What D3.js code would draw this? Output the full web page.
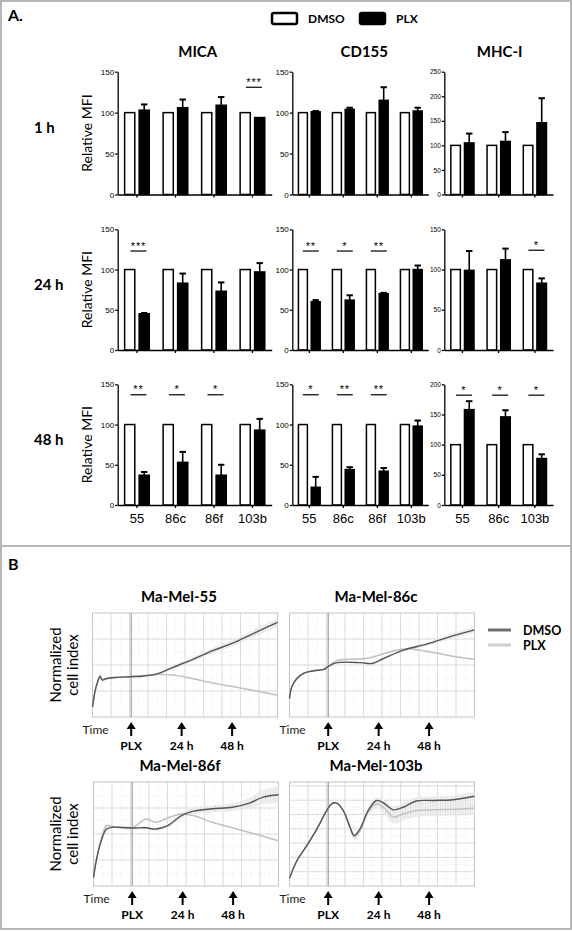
<!DOCTYPE html>
<html><head><meta charset="utf-8">
<script src="https://cdn.jsdelivr.net/npm/d3@7"></script>
<style>body{margin:0;background:#fff}svg{display:block}</style>
</head><body>
<svg id="c" width="572" height="931"></svg>
<script>
// ---------- Panel A data ----------
const markers = ["MICA", "CD155", "MHC-I"];
const timepoints = ["1 h", "24 h", "48 h"];
const seriesNames = ["DMSO", "PLX"];
const linesMICA = ["55", "86c", "86f", "103b"];
const linesCD155 = ["55", "86c", "86f", "103b"];
const linesMHC = ["55", "86c", "103b"];
const yMaxMICA = [150, 150, 150];
const yMaxCD155 = [150, 150, 150];
const yMaxMHC = [250, 150, 200];

const dmsoMICA = [[100, 100, 100, 100], [100, 100, 100, 100], [100, 100, 100, 100]];
const plxMICA = [[103, 106, 109, 94], [45, 83, 73, 97], [37, 53, 37, 93]];
const plxErrMICA = [[7, 10, 10, 0], [1, 12, 11, 11], [4, 13, 13, 14]];
const sigMICA = [["", "", "", "***"], ["***", "", "", ""], ["**", "*", "*", ""]];
const sigLevelMICA = [131, 123, 137];

const dmsoCD155 = [[100, 100, 100, 100], [100, 100, 100, 100], [100, 100, 100, 100]];
const plxCD155 = [[101, 104, 115, 102], [60, 62, 70, 100], [22, 44, 42, 98]];
const plxErrCD155 = [[1, 2, 16, 4], [2, 6, 1, 5], [13, 3, 4, 7]];
const sigCD155 = [["", "", "", ""], ["**", "*", "**", ""], ["*", "**", "**", ""]];
const sigLevelCD155 = [131, 123, 137];

const dmsoMHC = [[100, 100, 100], [100, 100, 100], [100, 100, 100]];
const plxMHC = [[105, 108, 146], [99, 112, 83], [158, 146, 77]];
const plxErrMHC = [[19, 19, 50], [24, 14, 6], [14, 11, 7]];
const sigMHC = [["", "", ""], ["", "", "*"], ["*", "*", "*"]];
const sigLevelMHC = [218, 124, 182];

// ---------- Panel B data (time in h from start, normalized cell index) ----------
const rtcaNames = ["Ma-Mel-55", "Ma-Mel-86c", "Ma-Mel-86f", "Ma-Mel-103b"];
const arrowTimes = [18.4, 42.4, 66.4];
const arrowLabels = ["PLX", "24 h", "48 h"];

const t55 = [0, 1.3, 2.4, 3.6, 4.7, 6.8, 10.7, 17.8, 24, 30.4, 38.3, 47.8, 57.2, 66.7, 76.2, 88];
const dmso55 = [0.39, 1.03, 1.35, 1.55, 1.42, 1.48, 1.52, 1.55, 1.57, 1.65, 1.91, 2.22, 2.55, 2.84, 3.2, 3.64];
const plx55 = [0.39, 1.0, 1.33, 1.6, 1.45, 1.48, 1.52, 1.55, 1.6, 1.63, 1.62, 1.47, 1.31, 1.17, 1.03, 0.84];
const sdD55 = [0, 0.05, 0.08, 0.08, 0.05, 0.02, 0.02, 0.02, 0.03, 0.04, 0.06, 0.08, 0.1, 0.12, 0.14, 0.16];
const sdP55 = [0, 0.05, 0.08, 0.08, 0.05, 0.02, 0.02, 0.02, 0.02, 0.02, 0.02, 0.02, 0.02, 0.02, 0.02, 0.02];

const t86c = [0, 1.1, 3.5, 6.7, 11.5, 16.3, 18.7, 22.6, 33.8, 39.4, 45, 54.5, 65.7, 76.8, 88];
const dmso86c = [0.71, 1.16, 1.48, 1.68, 1.78, 1.83, 1.96, 2.09, 2.09, 2.06, 2.26, 2.58, 2.81, 3.1, 3.35];
const plx86c = [0.71, 1.16, 1.48, 1.68, 1.78, 1.83, 1.96, 2.17, 2.23, 2.3, 2.44, 2.62, 2.52, 2.35, 2.22];
const sdD86c = [0, 0.05, 0.04, 0.03, 0.02, 0.02, 0.02, 0.02, 0.02, 0.02, 0.03, 0.05, 0.07, 0.09, 0.12];
const sdP86c = [0, 0.05, 0.04, 0.03, 0.02, 0.02, 0.02, 0.03, 0.03, 0.03, 0.03, 0.03, 0.03, 0.03, 0.03];

const t86f = [0, 1.3, 3.7, 6.2, 9.4, 18.3, 24.8, 29.7, 35.3, 41.8, 47.5, 56.4, 66.1, 74.2, 80.7, 88];
const dmso86f = [0.32, 0.97, 1.74, 2.19, 2.26, 2.23, 2.24, 2.19, 2.32, 2.71, 2.88, 2.97, 3.03, 3.19, 3.42, 3.51];
const plx86f = [0.32, 0.97, 1.8, 2.32, 2.28, 2.23, 2.58, 2.45, 2.62, 2.77, 2.71, 2.45, 2.24, 2.06, 1.91, 1.74];
const sdD86f = [0, 0.04, 0.05, 0.05, 0.04, 0.03, 0.05, 0.05, 0.07, 0.1, 0.12, 0.13, 0.15, 0.2, 0.28, 0.32];
const sdP86f = [0, 0.04, 0.05, 0.05, 0.04, 0.03, 0.04, 0.04, 0.04, 0.03, 0.02, 0.02, 0.02, 0.02, 0.02, 0.02];

const t103b = [0, 3.5, 8.2, 13, 17.7, 20.1, 22.4, 25.6, 28.8, 30.8, 33.5, 37.4, 41.4, 45.3, 49.3, 54, 60.3, 68.3, 77.7, 88];
const dmso103b = [0.30, 0.97, 1.55, 2.19, 2.9, 3.16, 3.19, 2.9, 2.26, 1.94, 2.19, 2.9, 3.29, 3.16, 2.93, 3.03, 3.27, 3.29, 3.32, 3.45];
const plx103b = [0.30, 0.97, 1.55, 2.19, 2.9, 3.16, 3.19, 2.9, 2.22, 1.88, 2.12, 2.84, 3.16, 2.97, 2.65, 2.77, 2.9, 2.93, 2.95, 2.99];
const sdD103b = [0, 0.03, 0.04, 0.04, 0.04, 0.04, 0.05, 0.05, 0.06, 0.07, 0.07, 0.08, 0.1, 0.12, 0.14, 0.15, 0.15, 0.15, 0.16, 0.17];
const sdP103b = [0, 0.03, 0.04, 0.04, 0.04, 0.04, 0.05, 0.05, 0.06, 0.07, 0.08, 0.12, 0.18, 0.22, 0.25, 0.25, 0.25, 0.25, 0.25, 0.25];

// ---------- drawing ----------
const svg = d3.select("#c");
const TITLE_FONT = "Lato, 'Open Sans', sans-serif";
const NARROW = "'Liberation Sans Narrow', 'Arial Narrow', 'Liberation Sans', sans-serif";

svg.append("rect").attr("x", 0).attr("y", 0).attr("width", 572).attr("height", 931).attr("fill", "#fff");
// panel borders
svg.append("rect").attr("x", 1).attr("y", 1).attr("width", 570).attr("height", 545)
  .attr("fill", "none").attr("stroke", "#b8b8b8").attr("stroke-width", 2);
svg.append("rect").attr("x", 1).attr("y", 546).attr("width", 570).attr("height", 383)
  .attr("fill", "none").attr("stroke", "#b8b8b8").attr("stroke-width", 2);

svg.append("text").attr("x", 8).attr("y", 21).text("A.")
  .attr("font-family", TITLE_FONT).attr("font-weight", 700).attr("font-size", 16);
svg.append("text").attr("x", 8).attr("y", 570).text("B")
  .attr("font-family", TITLE_FONT).attr("font-weight", 700).attr("font-size", 16);

// legend A
const legA = [{x: 272, fill: "#fff"}, {x: 360, fill: "#000"}];
legA.forEach((d, i) => {
  svg.append("rect").attr("x", d.x).attr("y", 13).attr("width", 25).attr("height", 11).attr("rx", 2)
    .attr("fill", d.fill).attr("stroke", "#000").attr("stroke-width", 2.5);
  svg.append("text").attr("x", d.x + 36).attr("y", 23).text(seriesNames[i])
    .attr("font-family", TITLE_FONT).attr("font-weight", 700).attr("font-size", 12);
});

const colX = [[117.7, 271.7], [292.3, 428.3], [444.3, 553]];
const rowY = [[71.7, 194.5], [229.3, 350], [384.3, 505]];
const titleShift = [3, 4, 1];

const panelData = [
  {lines: linesMICA, yMax: yMaxMICA, dmso: dmsoMICA, plx: plxMICA, err: plxErrMICA, sig: sigMICA, sigLevel: sigLevelMICA},
  {lines: linesCD155, yMax: yMaxCD155, dmso: dmsoCD155, plx: plxCD155, err: plxErrCD155, sig: sigCD155, sigLevel: sigLevelCD155},
  {lines: linesMHC, yMax: yMaxMHC, dmso: dmsoMHC, plx: plxMHC, err: plxErrMHC, sig: sigMHC, sigLevel: sigLevelMHC}
];

markers.forEach((m, c) => {
  svg.append("text").attr("x", (colX[c][0] + colX[c][1]) / 2 + titleShift[c]).attr("y", 57).text(m)
    .attr("text-anchor", "middle").attr("font-family", TITLE_FONT).attr("font-weight", 700).attr("font-size", 15);
});

timepoints.forEach((tp, r) => {
  const [top, bot] = rowY[r];
  const mid = (top + bot) / 2;
  svg.append("text").attr("x", 34).attr("y", mid).text(tp)
    .attr("font-family", TITLE_FONT).attr("font-weight", 700).attr("font-size", 15);
  svg.append("text").attr("transform", `translate(92,${mid}) rotate(-90)`).text("Relative MFI")
    .attr("text-anchor", "middle").attr("font-family", TITLE_FONT).attr("font-size", 14);

  panelData.forEach((p, c) => {
    const [l, rr] = colX[c];
    const g = svg.append("g");
    const y = d3.scaleLinear().domain([0, p.yMax[r]]).range([bot, top]);
    const x0 = d3.scaleBand().domain(p.lines).range([l, rr]).paddingInner(0.36).paddingOuter(0.18);
    const x1 = d3.scaleBand().domain(seriesNames).range([0, x0.bandwidth()]).paddingInner(0.3);
    const tickFs = c === 2 ? 6.5 : 8;

    p.lines.forEach((ln, i) => {
      const vals = [p.dmso[r][i], p.plx[r][i]];
      const errs = [0, p.err[r][i]];
      vals.forEach((v, s) => {
        const bx = x0(ln) + x1(seriesNames[s]);
        g.append("rect").attr("x", bx).attr("y", y(v)).attr("width", x1.bandwidth()).attr("height", y(0) - y(v))
          .attr("fill", s === 0 ? "#fff" : "#000").attr("stroke", "#000").attr("stroke-width", 1.5);
        if (errs[s] > 0) {
          const cx = bx + x1.bandwidth() / 2;
          g.append("line").attr("x1", cx).attr("x2", cx).attr("y1", y(v)).attr("y2", y(v + errs[s]))
            .attr("stroke", "#000").attr("stroke-width", 1.6);
          g.append("line").attr("x1", cx - 3.2).attr("x2", cx + 3.2).attr("y1", y(v + errs[s])).attr("y2", y(v + errs[s]))
            .attr("stroke", "#000").attr("stroke-width", 2);
        }
      });
      const sg = p.sig[r][i];
      if (sg) {
        const cx = x0(ln) + x0.bandwidth() / 2 + 1.5;
        const ly = y(p.sigLevel[r]);
        g.append("line").attr("x1", cx - 8).attr("x2", cx + 8).attr("y1", ly).attr("y2", ly)
          .attr("stroke", "#000").attr("stroke-width", 1.2);
        g.append("text").attr("x", cx).attr("y", ly - 1.5).text(sg).attr("text-anchor", "middle")
          .attr("font-family", "'Liberation Sans', sans-serif").attr("font-size", 11).attr("letter-spacing", 0.8);
      }
    });

    const ya = d3.axisLeft(y).tickValues(d3.range(0, p.yMax[r] + 1, 50)).tickSize(2.5).tickSizeOuter(0).tickPadding(1);
    const yg = g.append("g").attr("transform", `translate(${l},0)`).call(ya);
    yg.selectAll("text").attr("font-family", NARROW).attr("font-size", tickFs);
    yg.selectAll("path,line").attr("stroke", "#000").attr("stroke-width", 1.3);

    const xa = d3.axisBottom(x0).tickSize(3).tickSizeOuter(0).tickPadding(6);
    const xg = g.append("g").attr("transform", `translate(0,${bot})`).call(xa);
    xg.selectAll("path,line").attr("stroke", "#000").attr("stroke-width", 1.3);
    if (r === 2) {
      xg.selectAll("text").attr("font-family", NARROW).attr("font-size", 13).attr("fill", "#000");
    } else {
      xg.selectAll("text").remove();
    }
  });
});

// ---------- Panel B ----------
const defs = svg.append("defs");
const pat = defs.append("pattern").attr("id", "hatch").attr("patternUnits", "userSpaceOnUse")
  .attr("width", 2.5).attr("height", 4);
pat.append("rect").attr("width", 2.5).attr("height", 4).attr("fill", "#f1f1f1");
pat.append("line").attr("x1", 0.5).attr("x2", 0.5).attr("y1", 0).attr("y2", 4).attr("stroke", "#d0d0d0").attr("stroke-width", 0.7);

const rtca = [
  {t: t55, d: dmso55, p: plx55, sd: sdD55, sp: sdP55, left: 92.5, top: 613, grid: 1},
  {t: t86c, d: dmso86c, p: plx86c, sd: sdD86c, sp: sdP86c, left: 289.5, top: 613, grid: 1},
  {t: t86f, d: dmso86f, p: plx86f, sd: sdD86f, sp: sdP86f, left: 93.5, top: 782, grid: 1},
  {t: t103b, d: dmso103b, p: plx103b, sd: sdD103b, sp: sdP103b, left: 289.5, top: 782, grid: 0.55}
];
const PW = 185, PH = 104;

rtca.forEach((cfg, k) => {
  const g = svg.append("g");
  const x = d3.scaleLinear().domain([0, 88]).range([cfg.left, cfg.left + PW]);
  const y = d3.scaleLinear().domain([0, 4]).range([cfg.top + PH, cfg.top]);
  const bot = cfg.top + PH;

  svg.append("text").attr("x", cfg.left + PW / 2 - 6).attr("y", cfg.top - 11).text(rtcaNames[k])
    .attr("text-anchor", "middle").attr("font-family", TITLE_FONT).attr("font-weight", 700).attr("font-size", 15);

  d3.range(4.4, 88, 4.4).forEach(tv => {
    g.append("line").attr("x1", x(tv)).attr("x2", x(tv)).attr("y1", cfg.top).attr("y2", bot)
      .attr("stroke", "#e4e4e4").attr("stroke-width", 0.8).attr("stroke-dasharray", "1,2");
  });
  d3.range(cfg.grid / 2, 4, cfg.grid / 2).forEach(v => {
    g.append("line").attr("x1", cfg.left).attr("x2", cfg.left + PW).attr("y1", y(v)).attr("y2", y(v))
      .attr("stroke", "#e4e4e4").attr("stroke-width", 0.8).attr("stroke-dasharray", "1,2");
  });
  d3.range(8.8, 87, 8.8).forEach(tv => {
    g.append("line").attr("x1", x(tv)).attr("x2", x(tv)).attr("y1", cfg.top).attr("y2", bot)
      .attr("stroke", "#d9d9d9").attr("stroke-width", 0.9);
  });
  d3.range(cfg.grid, 3.95, cfg.grid).forEach(v => {
    g.append("line").attr("x1", cfg.left).attr("x2", cfg.left + PW).attr("y1", y(v)).attr("y2", y(v))
      .attr("stroke", "#d9d9d9").attr("stroke-width", 0.9);
  });
  g.append("rect").attr("x", cfg.left).attr("y", cfg.top).attr("width", PW).attr("height", PH)
    .attr("fill", "none").attr("stroke", "#c4c4c4").attr("stroke-width", 1);
  g.append("line").attr("x1", x(arrowTimes[0])).attr("x2", x(arrowTimes[0])).attr("y1", cfg.top).attr("y2", bot)
    .attr("stroke", "#8a8a8a").attr("stroke-width", 1);

  const idx = d3.range(cfg.t.length);
  const curve = d3.curveCatmullRom.alpha(0.5);
  const areaP = d3.area().x(i => x(cfg.t[i])).y0(i => y(cfg.p[i] - cfg.sp[i])).y1(i => y(cfg.p[i] + cfg.sp[i])).curve(curve);
  const areaD = d3.area().x(i => x(cfg.t[i])).y0(i => y(cfg.d[i] - cfg.sd[i])).y1(i => y(cfg.d[i] + cfg.sd[i])).curve(curve);
  g.append("path").attr("d", areaP(idx)).attr("fill", "url(#hatch)").attr("opacity", 0.85);
  g.append("path").attr("d", areaD(idx)).attr("fill", "url(#hatch)").attr("opacity", 0.85);
  const lineP = d3.line().x(i => x(cfg.t[i])).y(i => y(cfg.p[i])).curve(curve);
  const lineD = d3.line().x(i => x(cfg.t[i])).y(i => y(cfg.d[i])).curve(curve);
  g.append("path").attr("d", lineP(idx)).attr("fill", "none").attr("stroke", "#c2c2c2").attr("stroke-width", 1.5);
  g.append("path").attr("d", lineD(idx)).attr("fill", "none").attr("stroke", "#555").attr("stroke-width", 1.4);

  svg.append("text").attr("x", cfg.left - 10).attr("y", bot + 17).text("Time")
    .attr("font-family", TITLE_FONT).attr("font-size", 12).attr("fill", "#222");
  arrowTimes.forEach((tv, j) => {
    const ax = x(tv);
    svg.append("path").attr("d", `M${ax},${bot + 5} L${ax - 4.5},${bot + 12} L${ax + 4.5},${bot + 12} Z`).attr("fill", "#000");
    svg.append("line").attr("x1", ax).attr("x2", ax).attr("y1", bot + 10).attr("y2", bot + 19)
      .attr("stroke", "#000").attr("stroke-width", 2);
    svg.append("text").attr("x", ax).attr("y", bot + 33).text(arrowLabels[j]).attr("text-anchor", "middle")
      .attr("font-family", TITLE_FONT).attr("font-weight", 700).attr("font-size", 12);
  });

  if (k % 2 === 0) {
    const mid = cfg.top + PH / 2;
    svg.append("text").attr("transform", `translate(61,${mid}) rotate(-90)`).text("Normalized")
      .attr("text-anchor", "middle").attr("font-family", TITLE_FONT).attr("font-size", 15);
    svg.append("text").attr("transform", `translate(78,${mid}) rotate(-90)`).text("cell index")
      .attr("text-anchor", "middle").attr("font-family", TITLE_FONT).attr("font-size", 15);
  }
});

// legend B
const legB = [{y: 630, c: "#6e6e6e"}, {y: 645, c: "#cfcfcf"}];
legB.forEach((d, i) => {
  svg.append("line").attr("x1", 488).attr("x2", 511).attr("y1", d.y).attr("y2", d.y)
    .attr("stroke", d.c).attr("stroke-width", 3);
  svg.append("text").attr("x", 523).attr("y", d.y + 4.5).text(seriesNames[i])
    .attr("font-family", TITLE_FONT).attr("font-weight", 700).attr("font-size", 12.5);
});
</script>
</body></html>
